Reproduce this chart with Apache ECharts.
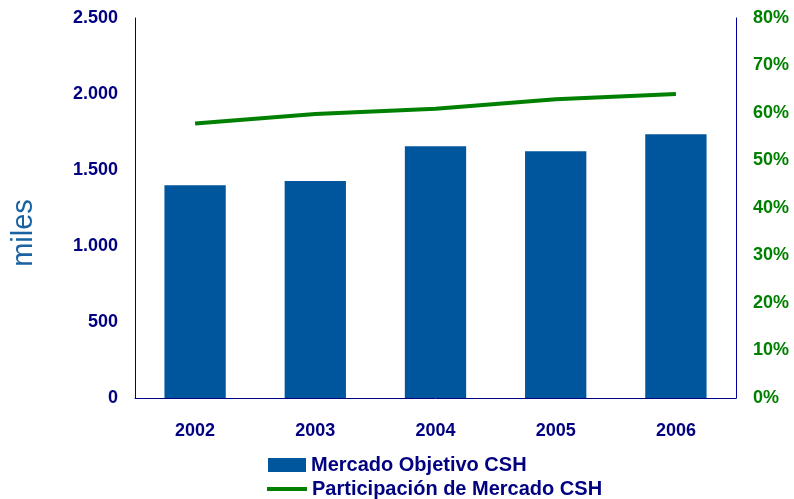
<!DOCTYPE html>
<html><head><meta charset="utf-8">
<script src="https://cdn.jsdelivr.net/npm/echarts@6/dist/echarts.min.js"></script>
<style>html,body{margin:0;padding:0;background:#fff}#c{width:794px;height:499px}</style>
</head><body><div id="c"></div>
<script>
const years = ['2002','2003','2004','2005','2006'];
const mercado = [1400, 1427, 1657, 1624, 1736];
const participacion = [57.8, 59.8, 60.9, 62.9, 64.0];
const leftTicks = [0, 500, 1000, 1500, 2000, 2500];
const rightTicks = [0, 10, 20, 30, 40, 50, 60, 70, 80];

const navy = '#000080';
const green = '#008000';
const font = 'Arial, "Liberation Sans", sans-serif';
const chart = echarts.init(document.getElementById('c'));
chart.setOption({
  animation: false,
  grid: {left: 135, right: 58, top: 18, bottom: 101},
  legend: [
    {data: ['Mercado Objetivo CSH'], left: 263, top: 450, orient: 'vertical', itemWidth: 38, itemHeight: 14, icon: 'rect',
     textStyle: {color: navy, fontWeight: 'bold', fontSize: 20, fontFamily: font}},
    {data: ['Participación de Mercado CSH'], left: 262, top: 474, orient: 'vertical', itemWidth: 40, itemHeight: 4, icon: 'rect',
     textStyle: {color: navy, fontWeight: 'bold', fontSize: 20, fontFamily: font}}
  ],
  graphic: [{type: 'text', x: 24, y: 233, rotation: Math.PI/2,
    style: {text: 'miles', fill: '#1a63a3', font: '29px ' + font, align: 'center', verticalAlign: 'middle'}}],
  xAxis: {type: 'category', data: years,
    axisLine: {show: true, lineStyle: {color: navy, width: 1}},
    axisTick: {show: false},
    axisLabel: {color: navy, fontWeight: 'bold', fontSize: 18, fontFamily: font, margin: 24}},
  yAxis: [
    {type: 'value', min: leftTicks[0], max: leftTicks[leftTicks.length-1], interval: 500,
     axisLine: {show: true, lineStyle: {color: navy, width: 1}}, axisTick: {show: false}, splitLine: {show: false},
     axisLabel: {color: navy, fontWeight: 'bold', fontSize: 18, fontFamily: font, margin: 17,
       formatter: v => String(v).replace(/\B(?=(\d{3})+(?!\d))/g, '.')}},
    {type: 'value', min: rightTicks[0], max: rightTicks[rightTicks.length-1], interval: 10, position: 'right',
     axisLine: {show: true, lineStyle: {color: '#0000a0', width: 1}}, axisTick: {show: false}, splitLine: {show: false},
     axisLabel: {color: green, fontWeight: 'bold', fontSize: 18, fontFamily: font, margin: 17, formatter: '{value}%'}}
  ],
  series: [
    {name: 'Mercado Objetivo CSH', type: 'bar', data: mercado, barWidth: '51%', itemStyle: {color: '#00569c'}},
    {name: 'Participación de Mercado CSH', type: 'line', yAxisIndex: 1, data: participacion, symbol: 'none',
     lineStyle: {color: green, width: 4}, itemStyle: {color: green}}
  ]
});
</script></body></html>
